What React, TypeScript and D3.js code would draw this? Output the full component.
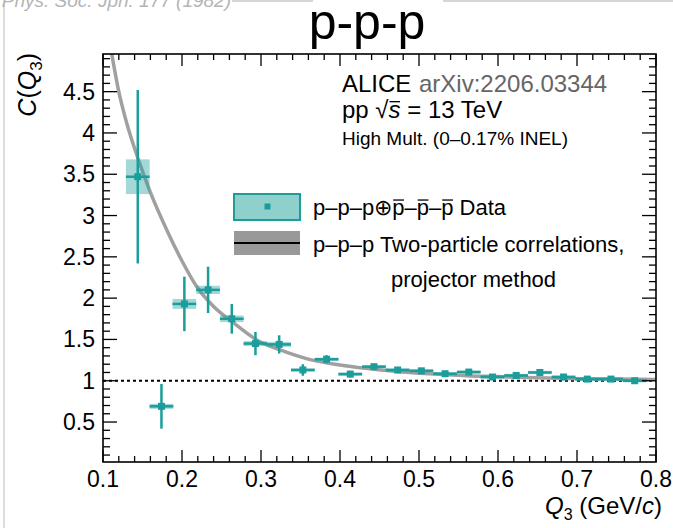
import React from "react";
import * as d3 from "d3";

// ---- data ----
const qCenters = [0.144, 0.174, 0.203, 0.233, 0.263, 0.293, 0.323, 0.353, 0.383, 0.413, 0.443, 0.473, 0.503, 0.533, 0.563, 0.593, 0.623, 0.653, 0.683, 0.713, 0.743, 0.773];
const cValues = [3.47, 0.69, 1.93, 2.10, 1.75, 1.45, 1.44, 1.13, 1.26, 1.08, 1.17, 1.13, 1.12, 1.085, 1.105, 1.045, 1.064, 1.10, 1.045, 1.02, 1.02, 1.0];
const statErr = [1.05, 0.27, 0.33, 0.28, 0.18, 0.14, 0.11, 0.07, 0.05, 0.04, 0.035, 0.03, 0.025, 0.025, 0.02, 0.02, 0.02, 0.02, 0.015, 0.015, 0.015, 0.015];
const sysErr = [0.21, 0.03, 0.06, 0.05, 0.04, 0.03, 0.03, 0.02, 0.02, 0.02, 0.02, 0.02, 0.02, 0.02, 0.02, 0.02, 0.02, 0.02, 0.02, 0.02, 0.02, 0.02];
const binHalfWidth = 0.015;

const curveQ = [0.111, 0.12, 0.13, 0.144, 0.16, 0.18, 0.2, 0.22, 0.24, 0.264, 0.297, 0.331, 0.365, 0.4, 0.432, 0.475, 0.52, 0.56, 0.6, 0.65, 0.7, 0.75, 0.8];
const curveC = [4.96, 4.5, 4.12, 3.7, 3.28, 2.84, 2.45, 2.12, 1.9, 1.71, 1.48, 1.35, 1.25, 1.19, 1.15, 1.11, 1.08, 1.06, 1.05, 1.035, 1.025, 1.02, 1.015];

const xDomain = [0.1, 0.8];
const yDomain = [0.016, 4.956];

const W = 673, H = 528;
const L = 103, R = 656, T = 54, B = 462;
const TEAL = "#1b9e9b";
const FONT = "'Liberation Sans', Arial, Helvetica, sans-serif";

function Overlined({ x, y, fontSize, parts }: { x: number; y: number; fontSize: number; parts: { t: string; bar?: boolean; italic?: boolean; color?: string }[] }) {
  const ref = React.useRef<SVGTextElement>(null);
  const [bars, setBars] = React.useState<{ x1: number; x2: number }[]>([]);
  React.useLayoutEffect(() => {
    const el = ref.current;
    if (!el) return;
    const spans = Array.from(el.querySelectorAll("tspan"));
    const out: { x1: number; x2: number }[] = [];
    spans.forEach((s, i) => {
      if (parts[i].bar) {
        const bb = (s as SVGTextContentElement).getBBox();
        out.push({ x1: bb.x + 1, x2: bb.x + bb.width - 0.5 });
      }
    });
    setBars(out);
  }, []);
  return (
    <g>
      <text ref={ref} x={x} y={y} fontSize={fontSize} fill="#000">
        {parts.map((p, i) => (
          <tspan key={i} fontStyle={p.italic ? "italic" : undefined}>{p.t}</tspan>
        ))}
      </text>
      {bars.map((b, i) => (
        <line key={i} x1={b.x1} x2={b.x2} y1={y - fontSize * 0.68} y2={y - fontSize * 0.68} stroke="#000" strokeWidth={1.3} />
      ))}
    </g>
  );
}

export default function App() {
  const x = d3.scaleLinear().domain(xDomain).range([L, R]);
  const y = d3.scaleLinear().domain(yDomain).range([B, T]);
  const xMajor = x.ticks(7);
  const xMinor = x.ticks(35);
  const yMajor = y.ticks(10);
  const yMinor = y.ticks(50);
  const fx = d3.format(".1f");
  const fy = d3.format("~g");

  const line = d3.line<number>()
    .x((_, i) => x(curveQ[i]))
    .y((d) => y(d))
    .curve(d3.curveMonotoneX);

  return (
    <svg width={W} height={H} style={{ position: "absolute", left: 0, top: 0, background: "#fff" }} fontFamily={FONT}>
      <defs>
        <clipPath id="plot">
          <rect x={L} y={T} width={R - L} height={B - T} />
        </clipPath>
      </defs>
      <rect x={0} y={0} width={W} height={H} fill="#fff" />
      {/* slide remnants */}
      <line x1={4} y1={4} x2={4} y2={H} stroke="#d0d0d0" strokeWidth={1.5} />
      <line x1={232} y1={1} x2={313} y2={1} stroke="#c8c8c8" strokeWidth={1.5} />
      <line x1={443} y1={1} x2={W} y2={1} stroke="#c8c8c8" strokeWidth={1.5} />
      <text x={231} y={7} textAnchor="end" fontSize={19} fontStyle="italic" fill="#b4b4b4">Phys. Soc. Jpn. 177 (1982)</text>

      {/* title */}
      <text x={367} y={39} textAnchor="middle" fontSize={50} fill="#000">p-p-p</text>

      {/* reference line at 1 */}
      <line x1={L} x2={R} y1={y(1)} y2={y(1)} stroke="#000" strokeWidth={2} strokeDasharray="3,3" />

      {/* curve */}
      <path d={line(curveC) || ""} fill="none" stroke="#a0a0a0" strokeWidth={3.5} clipPath="url(#plot)" />

      {/* systematic boxes, error bars, markers */}
      <g clipPath="url(#plot)">
        {qCenters.map((q, i) => (
          <rect key={"s" + i} x={x(q - binHalfWidth)} width={x(q + binHalfWidth) - x(q - binHalfWidth)}
            y={y(cValues[i] + sysErr[i])} height={y(cValues[i] - sysErr[i]) - y(cValues[i] + sysErr[i])}
            fill={TEAL} fillOpacity={0.4} />
        ))}
        {qCenters.map((q, i) => (
          <g key={"e" + i} stroke={TEAL} strokeWidth={2.5}>
            <line x1={x(q)} x2={x(q)} y1={y(cValues[i] + statErr[i])} y2={y(cValues[i] - statErr[i])} />
            <line x1={x(q - binHalfWidth)} x2={x(q + binHalfWidth)} y1={y(cValues[i])} y2={y(cValues[i])} />
          </g>
        ))}
        {qCenters.map((q, i) => (
          <rect key={"m" + i} x={x(q) - 3.5} y={y(cValues[i]) - 3.5} width={7} height={7} fill={TEAL} />
        ))}
      </g>

      {/* frame and ticks */}
      <rect x={L} y={T} width={R - L} height={B - T} fill="none" stroke="#000" strokeWidth={1.6} />
      <g stroke="#000" strokeWidth={1.3}>
        {xMinor.map((t) => {
          const major = xMajor.some((m) => Math.abs(m - t) < 1e-9);
          const len = major ? 12 : 6;
          return (
            <g key={"xt" + t}>
              <line x1={x(t)} x2={x(t)} y1={B} y2={B - len} />
              <line x1={x(t)} x2={x(t)} y1={T} y2={T + len} />
            </g>
          );
        })}
        {yMinor.map((t) => {
          const major = yMajor.some((m) => Math.abs(m - t) < 1e-9);
          const len = major ? 14 : 7;
          return (
            <g key={"yt" + t}>
              <line x1={L} x2={L + len} y1={y(t)} y2={y(t)} />
              <line x1={R} x2={R - len} y1={y(t)} y2={y(t)} />
            </g>
          );
        })}
      </g>
      {xMajor.map((t) => (
        <text key={"xl" + t} x={x(t)} y={487} textAnchor="middle" fontSize={23} fill="#000">{fx(t)}</text>
      ))}
      {yMajor.map((t) => (
        <text key={"yl" + t} x={95} y={y(t) + 8} textAnchor="end" fontSize={23} fill="#000">{fy(t)}</text>
      ))}

      {/* axis titles */}
      <text x={662} y={514} textAnchor="end" fontSize={24} fill="#000">
        <tspan fontStyle="italic">Q</tspan>
        <tspan fontSize={16} dy={6}>3</tspan>
        <tspan dy={-6}> (GeV/</tspan>
        <tspan fontStyle="italic">c</tspan>
        <tspan>)</tspan>
      </text>
      <text transform="translate(36,53) rotate(-90)" textAnchor="end" fontSize={25} fill="#000">
        <tspan fontStyle="italic">C</tspan>
        <tspan>(</tspan>
        <tspan fontStyle="italic">Q</tspan>
        <tspan fontSize={17} dy={6}>3</tspan>
        <tspan dy={-6}>)</tspan>
      </text>

      {/* annotations */}
      <text x={342} y={92} fontSize={24} fill="#000">ALICE</text>
      <text x={419} y={92} fontSize={24} fill="#666">arXiv:2206.03344</text>
      <Overlined x={342} y={118} fontSize={24} parts={[{ t: "pp  √" }, { t: "s", italic: true, bar: true }, { t: " = 13 TeV" }]} />
      <text x={342} y={145} fontSize={19} fill="#000">High Mult. (0–0.17% INEL)</text>

      {/* legend */}
      <rect x={234} y={194} width={66} height={26} fill="#8fd0cd" stroke={TEAL} strokeWidth={2} />
      <rect x={264.5} y={203.5} width={6} height={6} fill={TEAL} />
      <rect x={234} y={231} width={66} height={24} fill="#999" />
      <line x1={234} x2={300} y1={243} y2={243} stroke="#000" strokeWidth={2.2} />
      <Overlined x={313} y={215} fontSize={22} parts={[
        { t: "p–p–p⊕" }, { t: "p", bar: true }, { t: "–" }, { t: "p", bar: true }, { t: "–" }, { t: "p", bar: true }, { t: " Data" },
      ]} />
      <text x={313} y={252} fontSize={22} fill="#000">p–p–p Two-particle correlations,</text>
      <text x={391} y={287} fontSize={22} fill="#000">projector method</text>
    </svg>
  );
}
